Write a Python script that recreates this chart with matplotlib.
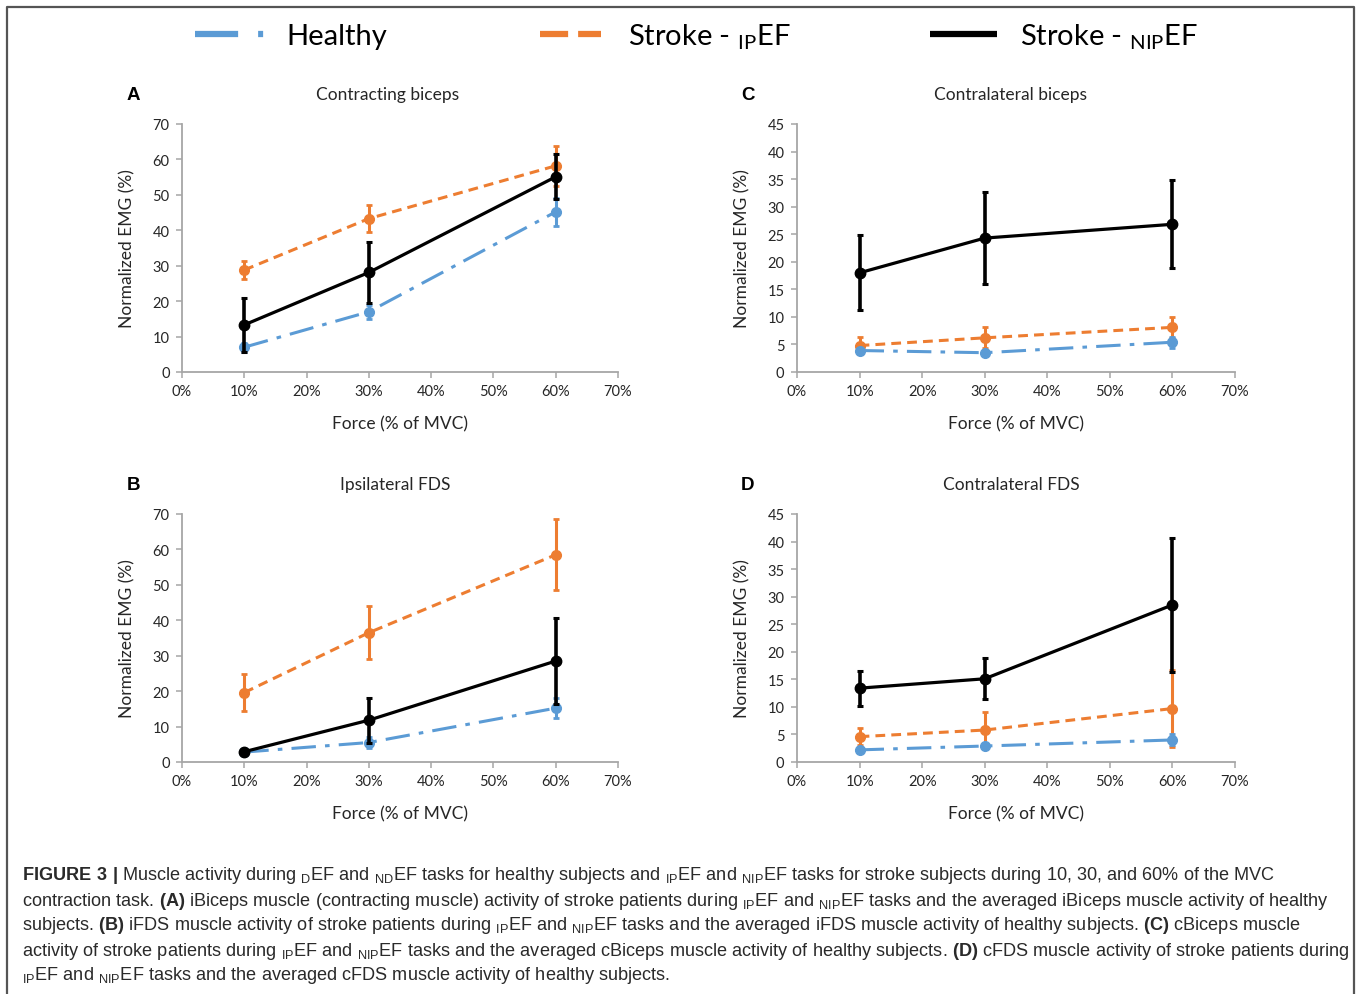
import matplotlib
matplotlib.use("Agg")
import matplotlib.pyplot as plt
from matplotlib.ticker import FuncFormatter, MultipleLocator
import numpy as np

plt.rcParams['mathtext.fontset'] = 'custom'
plt.rcParams['mathtext.rm'] = 'Liberation Sans'
plt.rcParams['mathtext.bf'] = 'Liberation Sans:bold'

# ---------------- data ----------------
force = [10, 30, 60]

# Panel A: Contracting biceps
A_healthy = [7.0, 17.0, 45.2]
A_healthy_err = [1.3, 2.0, 4.0]
A_ip = [28.8, 43.3, 58.2]
A_ip_err = [2.5, 3.7, 5.6]
A_nip = [13.3, 28.1, 55.1]
A_nip_err = [7.7, 8.7, 6.3]

# Panel B: Ipsilateral FDS
B_healthy = [2.8, 5.5, 15.2]
B_healthy_err = [0.4, 1.5, 2.8]
B_ip = [19.6, 36.5, 58.5]
B_ip_err = [5.3, 7.5, 10.0]
B_nip = [2.9, 11.8, 28.5]
B_nip_err = [0.5, 6.3, 12.2]

# Panel C: Contralateral biceps
C_healthy = [3.9, 3.5, 5.4]
C_healthy_err = [0.5, 0.4, 1.0]
C_ip = [4.8, 6.2, 8.1]
C_ip_err = [1.5, 1.9, 1.9]
C_nip = [18.0, 24.3, 26.8]
C_nip_err = [6.8, 8.3, 8.0]

# Panel D: Contralateral FDS
D_healthy = [2.2, 2.9, 4.0]
D_healthy_err = [0.3, 0.4, 1.0]
D_ip = [4.6, 5.8, 9.7]
D_ip_err = [1.5, 3.3, 7.0]
D_nip = [13.4, 15.1, 28.5]
D_nip_err = [3.2, 3.7, 12.1]

panel_letters = ["A", "B", "C", "D"]
panel_titles = ["Contracting biceps", "Ipsilateral FDS", "Contralateral biceps", "Contralateral FDS"]
panel_ymax = [70, 70, 45, 45]
panel_ystep = [10, 10, 5, 5]
x_ticks = [0, 10, 20, 30, 40, 50, 60, 70]
legend_labels = ["Healthy", "Stroke - $_{\\mathregular{IP}}$EF", "Stroke - $_{\\mathregular{NIP}}$EF"]

caption_lines = [
    "$\\mathbf{FIGURE\\ 3\\ |}$ Muscle activity during $_{\\mathregular{D}}$EF and $_{\\mathregular{ND}}$EF tasks for healthy subjects and $_{\\mathregular{IP}}$EF and $_{\\mathregular{NIP}}$EF tasks for stroke subjects during 10, 30, and 60% of the MVC",
    "contraction task. $\\mathbf{(A)}$ iBiceps muscle (contracting muscle) activity of stroke patients during $_{\\mathregular{IP}}$EF and $_{\\mathregular{NIP}}$EF tasks and the averaged iBiceps muscle activity of healthy",
    "subjects. $\\mathbf{(B)}$ iFDS muscle activity of stroke patients during $_{\\mathregular{IP}}$EF and $_{\\mathregular{NIP}}$EF tasks and the averaged iFDS muscle activity of healthy subjects. $\\mathbf{(C)}$ cBiceps muscle",
    "activity of stroke patients during $_{\\mathregular{IP}}$EF and $_{\\mathregular{NIP}}$EF tasks and the averaged cBiceps muscle activity of healthy subjects. $\\mathbf{(D)}$ cFDS muscle activity of stroke patients during",
    "$_{\\mathregular{IP}}$EF and $_{\\mathregular{NIP}}$EF tasks and the averaged cFDS muscle activity of healthy subjects.",
]

# ---------------- style ----------------
W, H = 1357, 995
BLUE = "#5B9BD5"
ORANGE = "#ED7D31"
BLACK = "#000000"
SPINE = "#A6A6A6"
FONT = "Lato"

healthy_ls = (0, (8, 3, 1.5, 3))
ip_ls = (0, (3.2, 2.0))

fig = plt.figure(figsize=(W / 100, H / 100), dpi=100)
fig.patch.set_facecolor("white")


def rect(left, right, top, bottom):
    return [left / W, 1 - bottom / H, (right - left) / W, (bottom - top) / H]


panels = [
    (A_healthy, A_healthy_err, A_ip, A_ip_err, A_nip, A_nip_err, rect(182, 618, 125, 373)),
    (B_healthy, B_healthy_err, B_ip, B_ip_err, B_nip, B_nip_err, rect(182, 618, 515, 763)),
    (C_healthy, C_healthy_err, C_ip, C_ip_err, C_nip, C_nip_err, rect(797, 1235, 125, 373)),
    (D_healthy, D_healthy_err, D_ip, D_ip_err, D_nip, D_nip_err, rect(797, 1235, 515, 763)),
]

for i, (h, he, ip, ipe, nip, nipe, r) in enumerate(panels):
    ax = fig.add_axes(r)
    ax.set_xlim(0, 70)
    ax.set_ylim(0, panel_ymax[i])
    ax.set_xticks(x_ticks)
    ax.yaxis.set_major_locator(MultipleLocator(panel_ystep[i]))
    ax.xaxis.set_major_formatter(FuncFormatter(lambda v, p: f"{int(v)}%"))
    for s in ["top", "right"]:
        ax.spines[s].set_visible(False)
    for s in ["left", "bottom"]:
        ax.spines[s].set_color(SPINE)
        ax.spines[s].set_linewidth(1.3)
    ax.tick_params(axis="both", colors=SPINE, length=4, width=1.1, direction="out",
                   labelcolor="#262626", labelsize=10.5, pad=5)
    for lab in ax.get_xticklabels() + ax.get_yticklabels():
        lab.set_fontfamily(FONT)

    ax.errorbar(force, ip, yerr=ipe, color=ORANGE, ecolor=ORANGE, lw=2.2, ls=ip_ls,
                marker="o", ms=7, elinewidth=2.2, capsize=2.5, capthick=2, zorder=3, clip_on=False)
    ax.errorbar(force, h, yerr=he, color=BLUE, ecolor=BLUE, lw=2.2, ls=healthy_ls,
                marker="o", ms=7, elinewidth=2.2, capsize=2.5, capthick=2, zorder=4, clip_on=False)
    ax.errorbar(force, nip, yerr=nipe, color=BLACK, ecolor=BLACK, lw=2.3, ls="-",
                marker="o", ms=7.5, elinewidth=2.6, capsize=2.5, capthick=2.2, zorder=5, clip_on=False)

    ax.set_xlabel("Force (% of MVC)", fontfamily=FONT, fontsize=12.5, color="#262626", labelpad=12)
    ax.set_ylabel("Normalized EMG (%)", fontfamily=FONT, fontsize=12.5, color="#262626", labelpad=12)

# overlay for titles, letters, legend, caption, border
ov = fig.add_axes([0, 0, 1, 1], zorder=-1)
ov.set_xlim(0, W)
ov.set_ylim(H, 0)
ov.axis("off")

title_pos = [(388, 95), (395, 485), (1010, 95), (1011, 485)]
letter_pos = [(133, 95), (133, 485), (748, 95), (748, 485)]
for i in range(4):
    ov.text(*title_pos[i], panel_titles[i], ha="center", va="center", fontfamily=FONT,
            fontsize=12.5, color="#262626")
    ov.text(*letter_pos[i], panel_letters[i], ha="center", va="center",
            fontfamily="Liberation Sans", fontweight="bold", fontsize=13.5, color="black")

# legend
ov.plot([195, 264], [35, 35], color=BLUE, lw=4.5, ls=(0, (6.9, 3.2, 0.8, 20)), dash_capstyle="butt")
ov.plot([540, 601], [35, 35], color=ORANGE, lw=4.5, ls=(0, (4.5, 1.6)), dash_capstyle="butt")
ov.plot([930, 997], [35, 35], color=BLACK, lw=4.5, solid_capstyle="butt")
leg_x = [286, 628, 1020]
for lx, lab in zip(leg_x, legend_labels):
    ov.text(lx, 37, lab, ha="left", va="center", fontfamily=FONT, fontsize=21, color="black")

# caption
cap_y = [876, 901, 926, 951, 976]
for cy, line in zip(cap_y, caption_lines):
    ov.text(22, cy, line, ha="left", va="center", fontfamily="Liberation Sans",
            fontsize=13.1, color="#2a2a2a")

# border
ov.plot([7, 7, 1354, 1354], [1000, 8, 8, 1000], color="#555555", lw=1.6)

fig.savefig("out.png", dpi=100, facecolor="white")
